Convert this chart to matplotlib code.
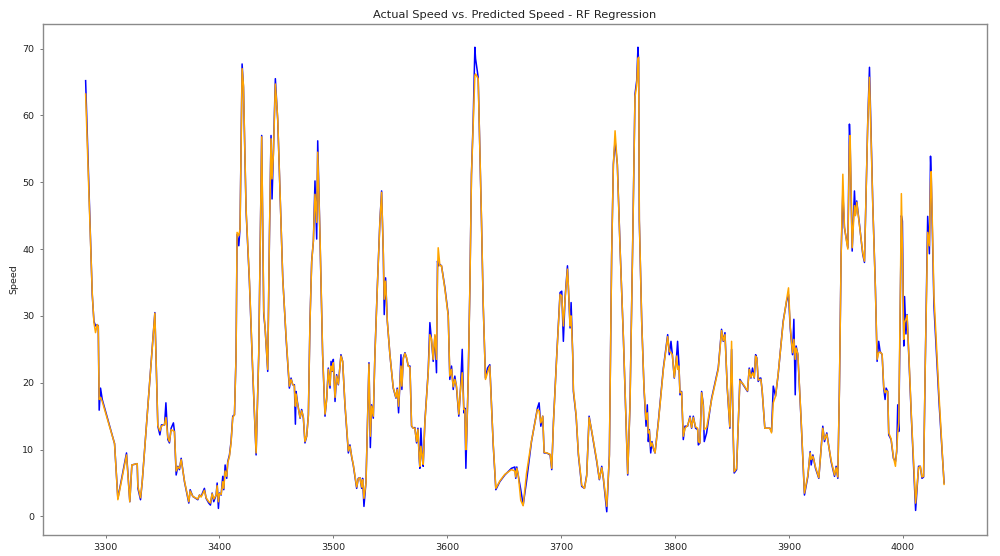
import numpy as np
import matplotlib
matplotlib.use("Agg")
import matplotlib.pyplot as plt

# test-set index (sorted) and speeds
idx = [3282.5, 3288.3, 3289.8, 3291.2, 3292.7, 3293.6, 3294.4, 3295.6, 3297.1, 3307.9,
       3310.8, 3318.4, 3321.3, 3323.1, 3327.8, 3328.4, 3330.7, 3332.2, 3343.3, 3345.9,
       3347.7, 3349.1, 3351.8, 3353.0, 3354.7, 3356.1, 3357.6, 3359.6, 3360.5, 3362.0,
       3363.5, 3364.9, 3366.4, 3369.3, 3373.1, 3374.3, 3376.6, 3381.0, 3382.5, 3383.9,
       3386.8, 3388.3, 3390.6, 3392.1, 3393.6, 3395.0, 3397.1, 3398.0, 3399.1, 3400.0,
       3401.5, 3402.9, 3403.8, 3405.0, 3406.4, 3407.3, 3408.8, 3410.2, 3411.7, 3413.2,
       3414.6, 3415.5, 3417.0, 3418.1, 3419.9, 3421.1, 3423.4, 3426.3, 3429.2, 3432.2,
       3434.5, 3437.1, 3438.9, 3440.1, 3442.4, 3443.9, 3445.3, 3446.2, 3447.4, 3449.1,
       3451.2, 3455.6, 3458.5, 3461.4, 3462.9, 3464.3, 3465.8, 3466.7, 3467.3, 3468.4,
       3470.8, 3472.2, 3473.7, 3475.1, 3476.6, 3478.1, 3479.5, 3481.0, 3482.5, 3483.9,
       3485.4, 3486.3, 3488.3, 3490.6, 3492.7, 3494.2, 3495.6, 3497.1, 3498.0, 3499.1,
       3500.0, 3501.5, 3502.9, 3504.4, 3506.7, 3508.2, 3510.2, 3513.2, 3514.6, 3516.1,
       3517.5, 3520.5, 3521.9, 3523.4, 3524.9, 3525.7, 3526.9, 3528.7, 3531.3, 3532.5,
       3533.6, 3535.1, 3536.5, 3538.6, 3540.9, 3542.4, 3543.9, 3544.7, 3545.9, 3547.4,
       3549.7, 3552.6, 3555.0, 3556.1, 3557.3, 3558.5, 3559.4, 3560.2, 3561.4, 3562.9,
       3564.3, 3565.8, 3567.3, 3568.7, 3570.2, 3571.6, 3573.1, 3574.3, 3575.4, 3576.0,
       3576.9, 3578.1, 3578.9, 3580.4, 3583.3, 3584.8, 3586.3, 3587.7, 3589.2, 3590.6,
       3591.5, 3592.1, 3593.6, 3595.0, 3598.0, 3600.9, 3602.3, 3603.8, 3605.3, 3606.7,
       3608.2, 3610.2, 3611.7, 3613.2, 3614.6, 3615.5, 3616.4, 3617.0, 3618.4, 3619.9,
       3621.3, 3622.8, 3624.3, 3624.9, 3627.2, 3630.1, 3631.6, 3633.6, 3635.4, 3637.4,
       3638.9, 3640.4, 3642.7, 3646.2, 3650.6, 3656.4, 3659.4, 3660.2, 3661.1, 3662.3,
       3664.6, 3666.7, 3669.6, 3674.0, 3679.2, 3680.7, 3682.2, 3683.9, 3685.1, 3687.4,
       3690.4, 3691.8, 3693.3, 3696.2, 3699.1, 3700.6, 3702.0, 3703.5, 3705.6, 3706.4,
       3707.9, 3708.8, 3710.2, 3710.8, 3713.2, 3715.2, 3718.1, 3720.5, 3722.5, 3724.6,
       3726.9, 3731.3, 3733.6, 3735.7, 3737.1, 3740.1, 3742.4, 3744.4, 3745.9, 3747.4,
       3749.4, 3751.8, 3754.7, 3757.0, 3758.5, 3760.5, 3762.9, 3764.9, 3766.4, 3767.5,
       3768.1, 3768.7, 3770.8, 3772.8, 3774.6, 3775.7, 3776.6, 3777.5, 3778.7, 3779.8,
       3781.0, 3782.5, 3785.4, 3789.8, 3793.6, 3795.0, 3796.5, 3797.7, 3799.4, 3801.5,
       3802.3, 3803.5, 3804.4, 3805.8, 3807.3, 3808.8, 3811.1, 3813.2, 3814.6, 3816.1,
       3818.1, 3819.9, 3820.5, 3821.9, 3823.4, 3824.9, 3825.7, 3827.8, 3832.2, 3838.0,
       3840.9, 3842.4, 3843.9, 3845.9, 3848.2, 3849.7, 3851.2, 3852.0, 3854.1, 3857.0,
       3859.9, 3863.7, 3865.2, 3866.7, 3868.1, 3869.6, 3870.8, 3871.9, 3873.1, 3874.6,
       3875.4, 3876.6, 3878.9, 3883.3, 3884.8, 3886.3, 3888.3, 3890.6, 3895.0, 3898.0,
       3899.7, 3901.2, 3903.2, 3904.4, 3905.6, 3906.4, 3907.9, 3910.8, 3913.7, 3916.7,
       3918.7, 3919.6, 3921.1, 3923.4, 3926.3, 3929.8, 3931.3, 3933.3, 3937.1, 3940.1,
       3941.5, 3943.0, 3944.4, 3945.9, 3947.4, 3948.8, 3950.3, 3951.8, 3953.2, 3953.8,
       3955.6, 3957.6, 3958.5, 3959.6, 3962.0, 3964.9, 3966.4, 3969.3, 3970.8, 3973.7,
       3976.0, 3977.5, 3978.9, 3980.1, 3981.9, 3983.3, 3984.5, 3985.4, 3986.8, 3987.7,
       3989.8, 3991.8, 3993.6, 3994.7, 3995.6, 3996.5, 3998.0, 3998.8, 3999.7, 4000.9,
       4001.6, 4002.8, 4003.8, 4005.3, 4007.6, 4011.3, 4013.9, 4015.4, 4016.9, 4018.3,
       4019.8, 4021.9, 4023.4, 4024.4, 4025.0, 4027.4, 4031.9, 4036.3]

actual = [65.2, 33.2, 29.2, 28.5, 28.7, 28.5, 15.9, 19.2, 17.5, 10.9,
          2.7, 9.5, 2.2, 7.7, 7.9, 4.2, 2.5, 5.2, 30.5, 13.5,
          12.2, 13.7, 13.7, 17.0, 11.5, 11.0, 13.2, 14.0, 12.7, 6.2,
          7.5, 7.0, 8.7, 5.2, 2.0, 4.0, 3.0, 2.5, 3.2, 3.0,
          4.2, 2.7, 2.0, 1.7, 3.5, 2.2, 3.2, 5.0, 1.2, 3.5,
          3.2, 6.0, 4.0, 7.7, 5.7, 8.2, 9.2, 11.2, 15.0, 15.2,
          24.2, 42.2, 40.5, 43.2, 67.7, 64.2, 45.7, 35.2, 21.7, 9.2,
          24.2, 57.0, 30.2, 28.2, 21.7, 41.7, 57.0, 47.5, 54.7, 65.5,
          59.2, 35.7, 26.7, 19.2, 20.7, 19.7, 19.7, 13.8, 18.7, 17.2,
          14.7, 16.0, 14.7, 11.0, 12.0, 15.2, 29.2, 38.2, 41.2, 50.2,
          41.5, 56.2, 41.7, 24.2, 15.0, 17.7, 22.2, 19.2, 23.2, 21.7,
          23.5, 17.2, 21.2, 19.7, 24.2, 23.2, 16.7, 9.5, 10.7, 8.9,
          7.7, 4.2, 5.7, 5.8, 4.2, 5.7, 1.5, 5.2, 23.0, 10.3,
          16.7, 14.7, 24.2, 34.2, 44.2, 48.7, 39.2, 30.2, 35.7, 29.2,
          24.2, 19.2, 17.7, 19.2, 15.5, 20.2, 24.2, 19.0, 23.7, 24.5,
          23.7, 22.5, 22.5, 13.5, 13.2, 13.3, 11.0, 13.2, 8.7, 7.2,
          13.2, 8.7, 7.5, 14.2, 21.7, 29.0, 26.2, 23.2, 27.0, 21.5,
          38.2, 37.5, 37.7, 37.5, 34.2, 30.2, 20.5, 22.5, 19.0, 21.0,
          19.2, 15.0, 19.2, 25.0, 15.5, 16.2, 7.2, 11.0, 20.2, 34.2,
          51.2, 59.2, 70.2, 68.5, 65.7, 44.2, 31.7, 20.7, 22.2, 22.7,
          16.7, 10.7, 4.0, 5.2, 6.2, 7.2, 7.4, 5.7, 7.4, 6.2,
          4.0, 1.7, 5.2, 11.2, 16.2, 17.0, 13.5, 15.0, 9.5, 9.5,
          9.2, 7.0, 14.2, 24.2, 33.5, 33.7, 26.2, 32.7, 37.5, 34.2,
          28.2, 32.0, 24.2, 18.7, 15.0, 9.2, 4.5, 4.2, 6.2, 15.0,
          12.7, 8.2, 5.5, 7.5, 5.7, 0.7, 9.2, 39.2, 52.7, 56.2,
          52.7, 40.2, 26.7, 14.2, 6.2, 16.7, 41.2, 63.2, 65.2, 70.2,
          68.0, 44.2, 29.2, 19.2, 13.5, 16.7, 11.2, 13.0, 9.5, 11.2,
          10.2, 9.5, 14.2, 22.2, 27.2, 24.2, 26.2, 24.2, 20.7, 24.2,
          26.2, 22.7, 18.2, 18.7, 11.5, 13.5, 13.5, 15.0, 13.2, 15.0,
          13.2, 13.0, 10.7, 11.0, 18.7, 16.7, 11.2, 12.5, 17.7, 22.2,
          28.0, 26.2, 27.5, 19.2, 13.2, 25.0, 11.7, 6.5, 7.0, 20.5,
          19.7, 18.7, 22.2, 20.7, 22.2, 20.7, 24.2, 23.7, 20.2, 20.7,
          20.7, 18.7, 13.2, 13.2, 12.7, 19.5, 18.0, 21.2, 29.2, 32.2,
          33.2, 28.2, 24.2, 29.5, 18.2, 25.5, 24.2, 14.2, 3.2, 6.0,
          9.7, 7.7, 9.2, 7.2, 5.7, 13.5, 11.2, 12.5, 8.2, 6.0,
          7.5, 5.7, 19.2, 39.2, 48.5, 43.2, 41.7, 40.2, 58.7, 56.0,
          39.7, 48.7, 45.2, 47.2, 43.7, 39.2, 38.0, 59.2, 67.2, 46.7,
          34.2, 23.2, 26.2, 24.7, 24.2, 19.2, 17.5, 19.2, 18.7, 12.2,
          11.5, 8.7, 8.2, 9.7, 16.7, 12.7, 34.2, 45.0, 44.2, 25.5,
          32.9, 27.3, 30.2, 24.2, 14.7, 0.9, 7.5, 7.5, 5.7, 5.9,
          22.9, 44.9, 39.3, 53.9, 51.0, 31.5, 17.0, 5.0]

predicted = [63.2, 33.5, 29.0, 27.5, 28.7, 28.4, 17.5, 17.8, 17.2, 10.9,
             2.5, 9.2, 2.2, 7.7, 7.9, 4.5, 2.8, 5.2, 30.4, 13.6,
             12.8, 13.5, 13.8, 14.8, 11.8, 11.2, 13.0, 12.8, 12.7, 6.8,
             7.4, 7.2, 8.5, 5.3, 2.2, 3.8, 3.0, 2.6, 3.2, 2.9,
             3.9, 2.8, 2.2, 2.0, 3.4, 2.6, 3.2, 4.6, 2.2, 3.4,
             3.3, 5.2, 4.2, 6.8, 6.0, 8.0, 9.0, 11.0, 14.8, 15.2,
             24.0, 42.5, 42.0, 43.0, 67.0, 64.5, 46.0, 35.5, 22.0, 9.5,
             24.0, 56.8, 30.8, 28.2, 22.0, 42.0, 56.5, 50.5, 54.2, 64.7,
             59.5, 35.5, 27.0, 19.5, 20.5, 19.8, 19.5, 16.5, 18.3, 17.0,
             14.8, 15.8, 14.9, 11.2, 12.0, 15.0, 29.0, 38.0, 41.3, 48.2,
             44.0, 54.5, 42.0, 24.5, 15.3, 17.5, 22.0, 19.6, 22.5, 21.8,
             23.0, 17.8, 21.0, 19.8, 24.0, 23.2, 16.9, 9.8, 10.5, 9.0,
             7.8, 4.4, 5.6, 5.8, 4.4, 5.5, 2.7, 5.0, 22.8, 12.0,
             16.5, 15.0, 24.0, 34.0, 44.0, 48.5, 39.5, 32.5, 35.2, 29.3,
             24.2, 19.3, 17.8, 19.0, 16.5, 20.0, 22.5, 19.5, 23.5, 24.4,
             23.8, 22.5, 22.3, 13.6, 13.2, 13.2, 11.2, 13.0, 9.0, 7.5,
             10.5, 9.0, 7.8, 14.0, 21.5, 27.2, 26.5, 23.5, 27.2, 23.5,
             36.5, 40.2, 37.5, 37.5, 34.0, 30.0, 21.0, 22.0, 19.4, 20.5,
             19.5, 15.3, 19.0, 21.5, 16.0, 16.0, 10.0, 11.7, 20.0, 34.0,
             51.0, 58.5, 66.0, 66.2, 65.5, 44.5, 32.0, 20.5, 21.5, 22.5,
             16.5, 10.9, 4.2, 5.3, 6.3, 7.0, 6.8, 5.9, 7.2, 6.4,
             2.4, 1.6, 6.4, 11.3, 16.0, 15.8, 14.0, 15.0, 9.6, 9.5,
             9.3, 7.2, 14.0, 24.0, 33.2, 33.0, 28.5, 32.5, 37.0, 34.5,
             28.5, 30.0, 24.5, 19.0, 15.2, 9.4, 4.7, 4.2, 6.0, 14.8,
             12.8, 8.4, 5.6, 7.3, 5.8, 1.5, 9.0, 39.0, 52.5, 57.7,
             52.5, 40.0, 26.9, 14.4, 6.4, 16.5, 41.0, 62.8, 64.5, 68.5,
             68.7, 44.5, 29.0, 19.3, 14.5, 15.5, 12.5, 12.8, 10.5, 11.0,
             10.3, 9.5, 14.0, 22.0, 26.9, 24.7, 24.5, 24.2, 20.8, 24.0,
             22.0, 22.5, 18.5, 18.6, 12.0, 13.2, 13.6, 14.8, 13.3, 14.8,
             13.4, 13.2, 11.2, 11.0, 18.5, 16.5, 13.0, 13.3, 17.5, 22.0,
             27.8, 26.3, 27.2, 19.4, 13.4, 26.2, 12.0, 6.7, 7.2, 20.3,
             19.8, 18.8, 22.0, 20.8, 21.5, 20.8, 24.0, 23.6, 20.4, 20.5,
             20.5, 18.8, 13.2, 13.2, 12.5, 17.0, 18.0, 21.3, 29.0, 32.4,
             34.2, 28.5, 24.5, 26.5, 23.5, 25.2, 24.3, 14.4, 3.5, 6.2,
             9.5, 8.5, 9.0, 7.4, 5.8, 13.2, 11.5, 12.3, 8.4, 6.2,
             7.3, 5.9, 19.0, 39.0, 51.2, 43.4, 41.5, 40.0, 55.5, 57.0,
             40.2, 46.5, 45.0, 47.0, 43.5, 39.4, 38.2, 59.0, 65.7, 46.5,
             34.0, 23.5, 24.5, 24.6, 24.3, 19.4, 18.5, 18.8, 18.7, 12.5,
             11.6, 8.9, 7.5, 10.0, 12.5, 14.0, 35.0, 48.3, 40.0, 26.5,
             29.0, 29.5, 30.1, 24.5, 15.0, 2.0, 7.3, 7.5, 5.9, 6.0,
             23.0, 42.5, 40.5, 50.0, 51.6, 33.0, 18.0, 4.8]

fig = plt.figure(figsize=(10, 5.56), dpi=100)
ax = fig.add_axes([0.0427, 0.0378, 0.9443, 0.919])

ax.plot(idx, actual, color='blue', linewidth=1.1)
ax.plot(idx, predicted, color='orange', linewidth=1.1)

ax.set_title('Actual Speed vs. Predicted Speed - RF Regression', fontsize=8.2, pad=4.3,
             color='#222222')
ax.set_ylabel('Speed', fontsize=6.8, labelpad=3, color='#222222')
ax.tick_params(labelsize=6.8, length=2.5, width=0.7, color='#777777',
               labelcolor='#222222')
for s in ax.spines.values():
    s.set_linewidth(1.0)
    s.set_color('#8a8a8a')

fig.savefig('out.png', dpi=100)
